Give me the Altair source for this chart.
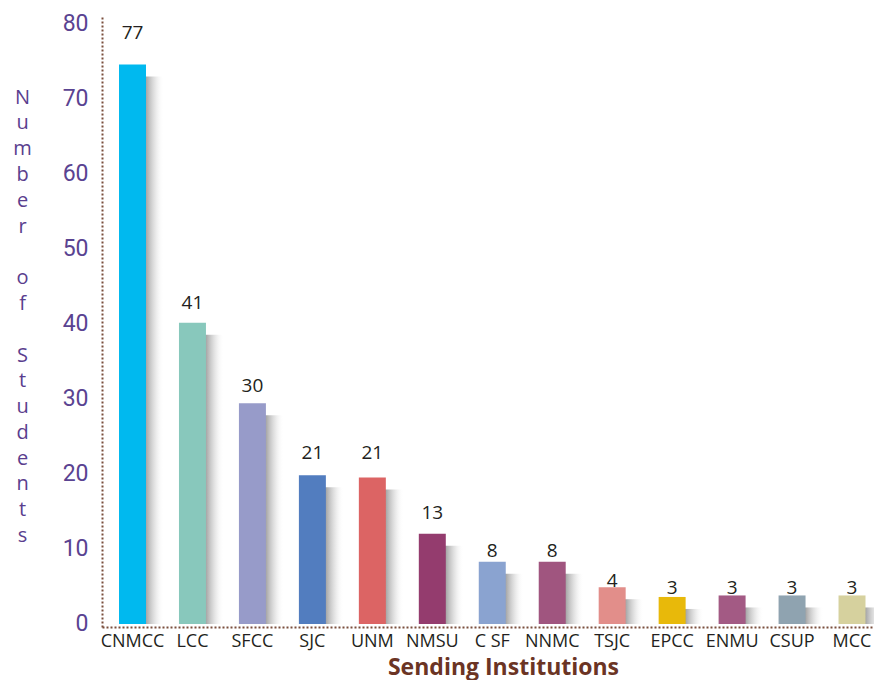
import altair as alt
import pandas as pd

institutions = ["CNMCC", "LCC", "SFCC", "SJC", "UNM", "NMSU", "C SF",
                "NNMC", "TSJC", "EPCC", "ENMU", "CSUP", "MCC"]
bar_heights = [74.5, 40.1, 29.4, 19.8, 19.5, 12.0, 8.3, 8.3, 4.9, 3.6, 3.8, 3.8, 3.8]
label_values = [77, 41, 30, 21, 21, 13, 8, 8, 4, 3, 3, 3, 3]
bar_colors = ["#00b9ef", "#88c8bc", "#979bc9", "#527dbf", "#dc6464", "#943c6e",
              "#8aa3d0", "#a0557f", "#e28e8a", "#e8b90a", "#a35a84", "#8fa3b0", "#d6d19e"]
y_ticks = [0, 10, 20, 30, 40, 50, 60, 70, 80]
BLANK = "\u2800"
y_title_letters = ["N", "u", "m", "b", "e", "r", BLANK, "o", "f", BLANK,
                   "S", "t", "u", "d", "e", "n", "t", "s"]

df = pd.DataFrame({
    "inst": institutions,
    "height": bar_heights,
    "label": label_values,
    "color": bar_colors,
})

FONT = "Open Sans"
AXIS_COLOR = "#7a4e3c"

x_axis = alt.Axis(
    title="Sending Institutions", labelAngle=0, ticks=False, grid=False,
    labelFont=FONT, labelFontSize=18, labelColor="#231f20", labelPadding=5,
    domainColor=AXIS_COLOR, domainDash=[2, 2], domainWidth=2,
    titleFont=FONT, titleFontSize=23, titleFontWeight="bold", titleColor="#6b3424",
    titleX=401, titleY=40, titleBaseline="middle", titleAlign="center",
)
y_axis = alt.Axis(
    title=y_title_letters, values=y_ticks, ticks=False, grid=False,
    labelFont="Roboto", labelFontSize=23, labelColor="#5a4391", labelPadding=14,
    domainColor=AXIS_COLOR, domainDash=[2, 2], domainWidth=2,
    titleFont=FONT, titleFontSize=20, titleFontWeight="normal", titleColor="#5a3e8e",
    titleAngle=0, titleAlign="center", titleBaseline="alphabetic",
    titleX=-80, titleY=87, titleLineHeight=25.8,
)

x_scale = alt.Scale(paddingInner=0.55, paddingOuter=0.2127, align=0.667, round=False)
y_scale = alt.Scale(domain=[-0.4, 80.95], nice=False, zero=False)

x_enc = alt.X("inst:N", sort=institutions, scale=x_scale, axis=x_axis)

base = alt.Chart(df)

shadow_grad = alt.LinearGradient(
    gradient="linear", x1=0, x2=1, y1=0, y2=0,
    stops=[
        alt.GradientStop(offset=0, color="rgba(90,90,90,0.6)"),
        alt.GradientStop(offset=0.33, color="rgba(90,90,90,0.55)"),
        alt.GradientStop(offset=0.7, color="rgba(150,150,150,0.2)"),
        alt.GradientStop(offset=1, color="rgba(255,255,255,0)"),
    ],
)

shadow = base.mark_bar(xOffset=18, yOffset=12, color=shadow_grad).encode(
    x=x_enc,
    y=alt.Y("height:Q", scale=y_scale, axis=y_axis),
    y2=alt.datum(0),
)

bars = base.mark_bar().encode(
    x=x_enc,
    y=alt.Y("height:Q", scale=y_scale, axis=y_axis),
    y2=alt.datum(0),
    color=alt.Color("color:N", scale=None, legend=None),
)

texts = base.mark_text(font=FONT, fontSize=19, color="#231f20", dy=-13,
                       baseline="middle", align="center").encode(
    x=x_enc,
    y=alt.Y("label:Q", scale=y_scale, axis=y_axis),
    text=alt.Text("label:Q"),
)

chart = alt.layer(shadow, bars, texts).properties(
    width=772, height=611,
    padding={"left": 94, "top": 8, "right": 0, "bottom": 53},
    autosize=alt.AutoSizeParams(type="none"),
    background="white",
).configure_view(stroke=None)

chart.save("out.html", embed_options={"renderer": "svg", "actions": False})
